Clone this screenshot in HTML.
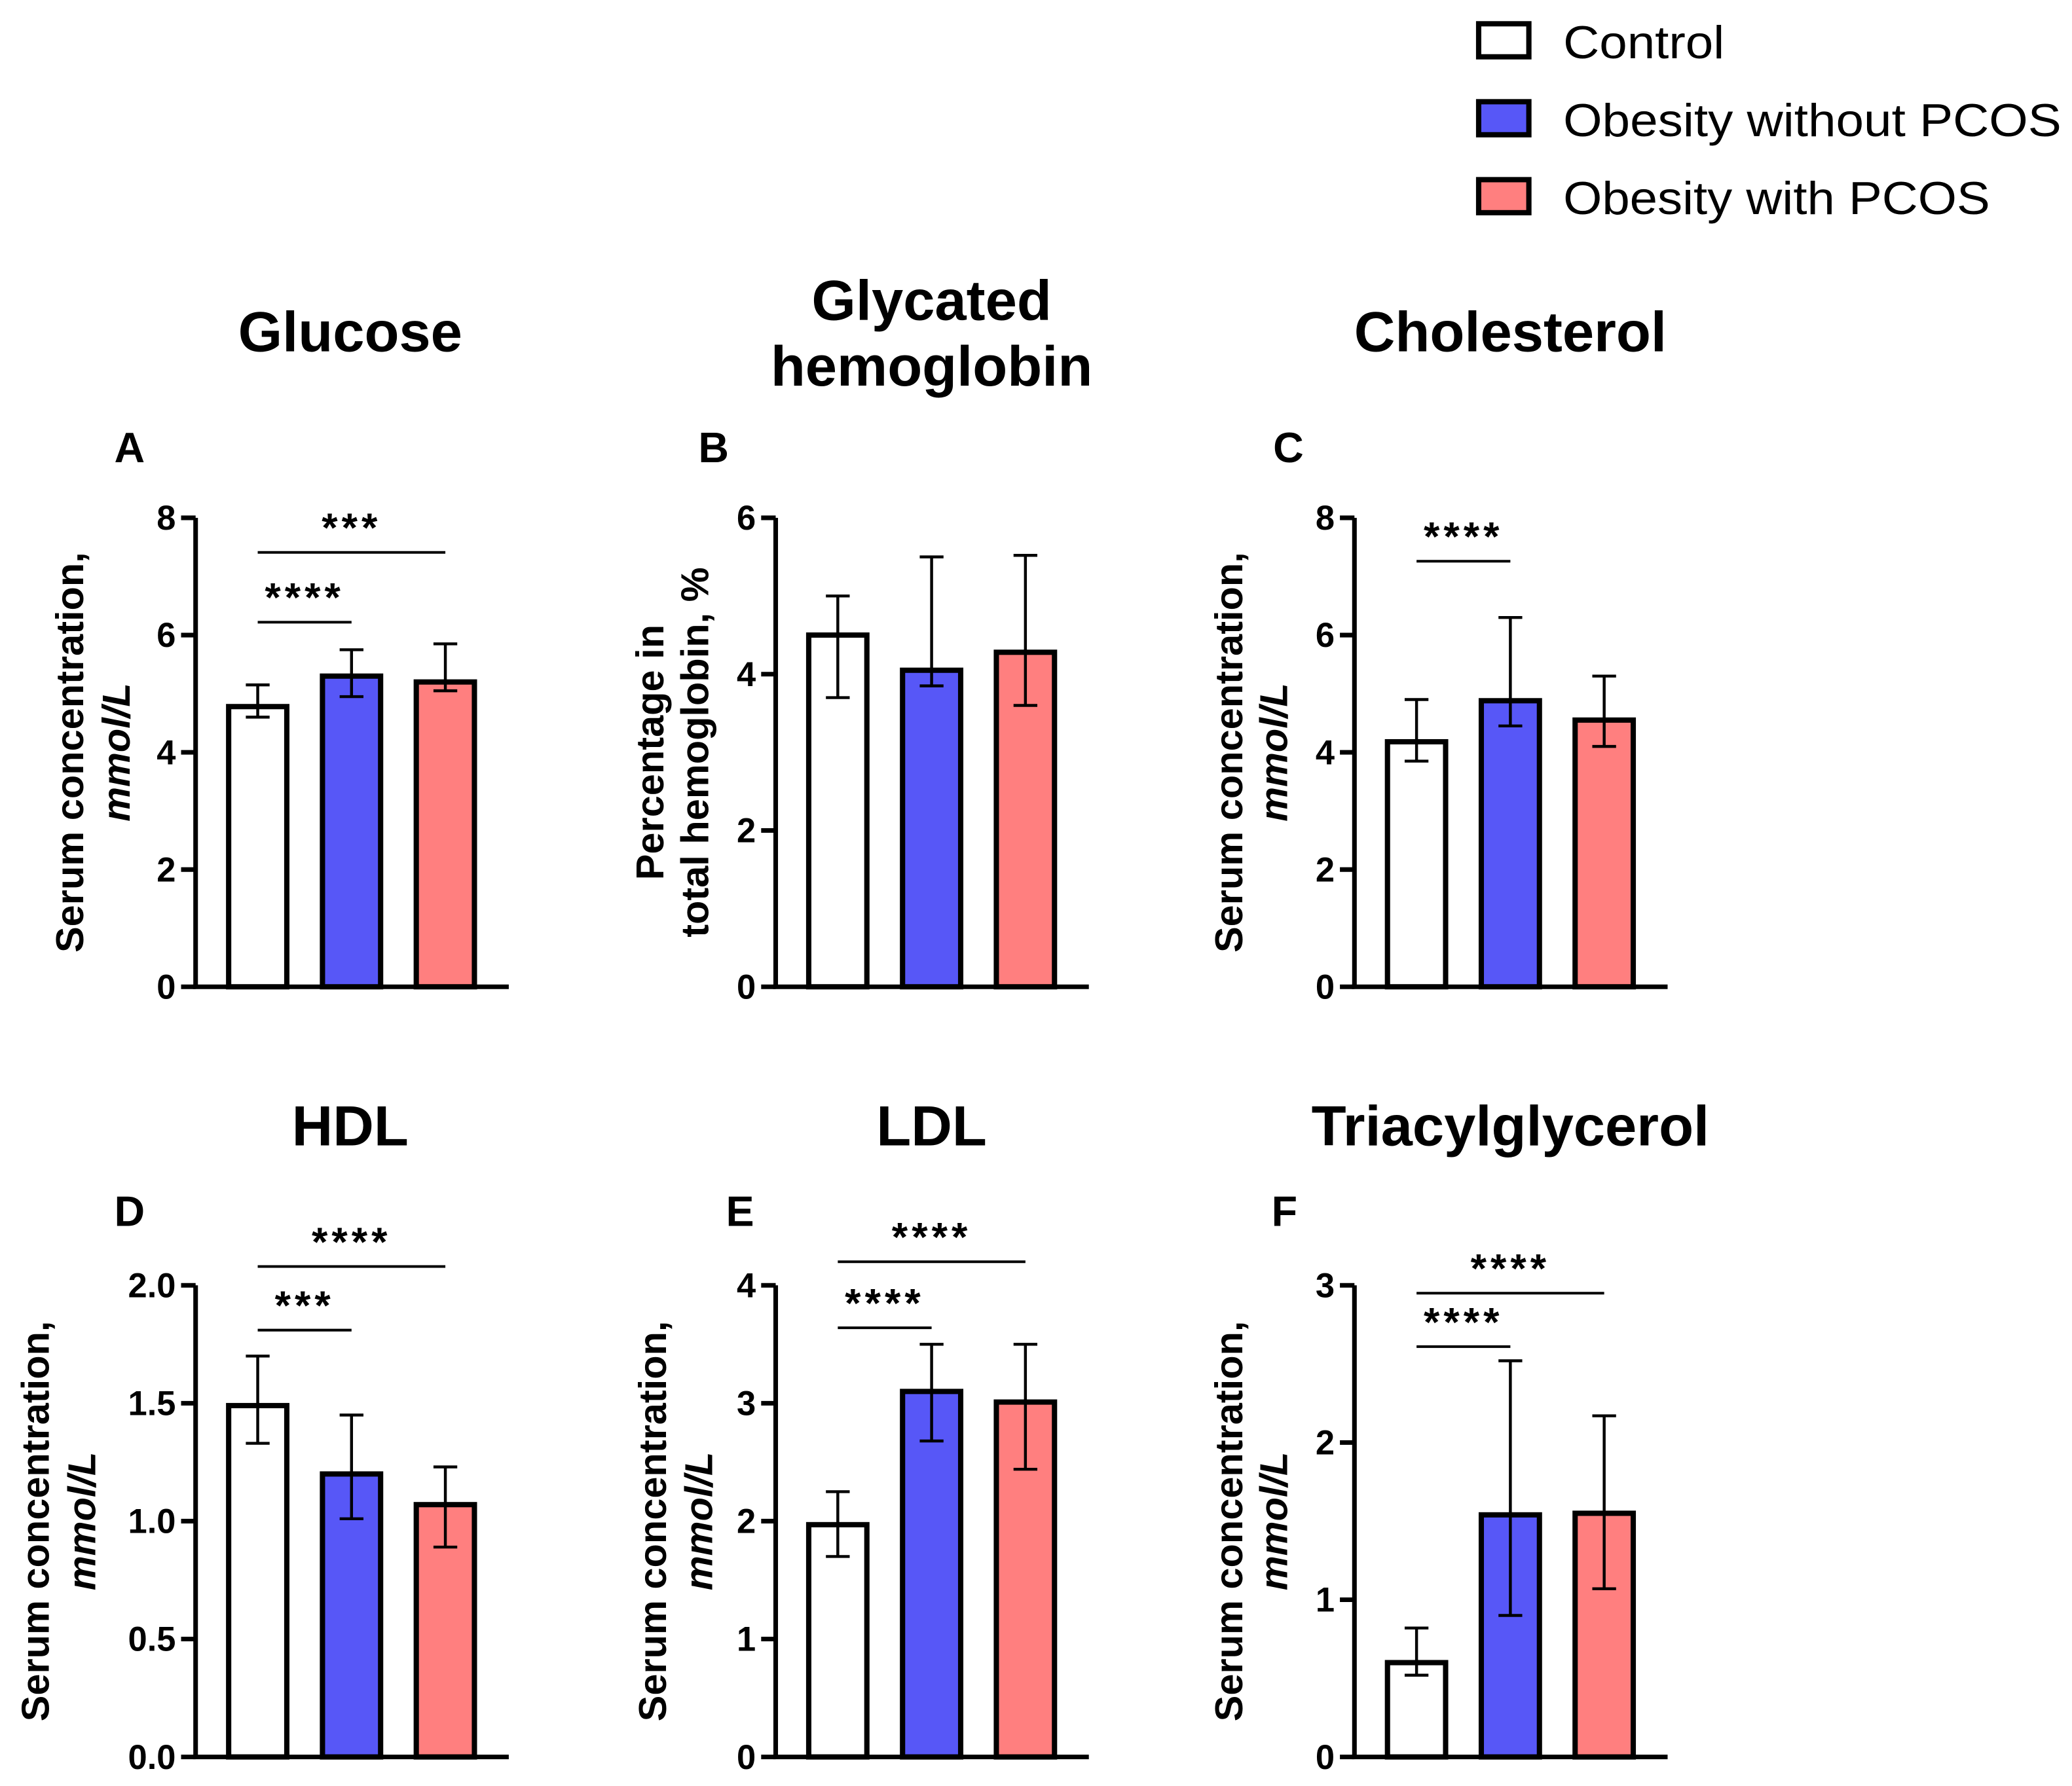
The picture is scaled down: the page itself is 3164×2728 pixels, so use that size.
<!DOCTYPE html>
<html><head><meta charset="utf-8"><style>
html,body{margin:0;padding:0;background:#fff;}
svg{display:block;}
text{font-family:"Liberation Sans",Arial,sans-serif;fill:#000;}
</style></head><body>
<svg id="chart" width="3164" height="2728" viewBox="0 0 1568 1352" xmlns="http://www.w3.org/2000/svg">
<g>
  <rect x="1119" y="18" width="38" height="25" fill="#fff" stroke="#000" stroke-width="4"/>
  <text x="1183" y="44" font-size="35" textLength="122" lengthAdjust="spacingAndGlyphs">Control</text>
  <rect x="1119" y="77" width="38" height="25" fill="#5757F7" stroke="#000" stroke-width="4"/>
  <text x="1183" y="103" font-size="35" textLength="377" lengthAdjust="spacingAndGlyphs">Obesity without PCOS</text>
  <rect x="1119" y="136" width="38" height="25" fill="#FF7F7F" stroke="#000" stroke-width="4"/>
  <text x="1183" y="162" font-size="35" textLength="323" lengthAdjust="spacingAndGlyphs">Obesity with PCOS</text>
</g>
</svg>
<script>
const groups = ["Control","Obesity without PCOS","Obesity with PCOS"];
const colors = ["#ffffff","#5757F7","#FF7F7F"];
const panelIds = ["glucose","glycated-hemoglobin","cholesterol","hdl","ldl","triacylglycerol"];
const medians = [[4.78,5.3,5.2],[4.5,4.05,4.28],[4.18,4.88,4.55],[1.49,1.2,1.07],[1.97,3.1,3.01],[0.6,1.54,1.55]];
const errLow  = [[4.6,4.95,5.05],[3.7,3.85,3.6],[3.85,4.45,4.1],[1.33,1.01,0.89],[1.7,2.68,2.44],[0.52,0.9,1.07]];
const errHigh = [[5.15,5.75,5.85],[5.0,5.5,5.52],[4.9,6.3,5.3],[1.70,1.45,1.23],[2.25,3.5,3.5],[0.82,2.52,2.17]];
const yMax = [8,6,8,2,4,3];
const yTicks = [["0","2","4","6","8"],["0","2","4","6"],["0","2","4","6","8"],["0.0","0.5","1.0","1.5","2.0"],["0","1","2","3","4"],["0","1","2","3"]];
const titles = [["Glucose"],["Glycated","hemoglobin"],["Cholesterol"],["HDL"],["LDL"],["Triacylglycerol"]];
const letters = ["A","B","C","D","E","F"];
const yLabels = [["Serum concentration,","mmol/L"],["Percentage in","total hemoglobin, %"],["Serum concentration,","mmol/L"],["Serum concentration,","mmol/L"],["Serum concentration,","mmol/L"],["Serum concentration,","mmol/L"]];
// significance: [fromGroup, toGroup, stars, valueLevel]
const sigs = [[[0,1,"****",6.22],[0,2,"***",7.41]],[],[[0,1,"****",7.26]],[[0,1,"***",1.81],[0,2,"****",2.08]],[[0,1,"****",3.64],[0,2,"****",4.2]],[[0,1,"****",2.61],[0,2,"****",2.95]]];

const layout = [
 {ax:148,top:392,bot:747,ly:338,lx:98,ty:[266],ylx:[53,88],tx:265},
 {ax:587,top:392,bot:747,ly:338,lx:540,ty:[242,292],ylx:[492,526],tx:705},
 {ax:1025,top:392,bot:747,ly:338,lx:975,ty:[266],ylx:[930,964],tx:1143},
 {ax:148,top:973,bot:1330,ly:916,lx:98,ty:[867],ylx:[27,62],tx:265},
 {ax:587,top:973,bot:1330,ly:916,lx:560,ty:[867],ylx:[494,529],tx:705},
 {ax:1025,top:973,bot:1330,ly:916,lx:972,ty:[867],ylx:[930,964],tx:1143}
];
const svg = document.getElementById('chart');
const NS = "http://www.w3.org/2000/svg";
function mk(tag, attrs, parent){const e=document.createElementNS(NS,tag);for(const k in attrs)e.setAttribute(k,attrs[k]);parent.appendChild(e);return e;}

panelIds.forEach((pid,p)=>{
  const L = layout[p];
  const g = mk('g',{},svg);
  
  
  const ys = v => L.bot - v/yMax[p]*(L.bot-L.top);
  const xs = i => L.ax + 47 + i*71;
  titles[p].forEach((t,k)=>{
    const te = mk('text',{x:L.tx,y:L.ty[k],'font-size':43,'font-weight':'bold','text-anchor':'middle'},g);
    te.textContent=t;
    
    
  });
  const le = mk('text',{x:L.lx,y:L.ly+12,'font-size':32,'font-weight':'bold','text-anchor':'middle'},g);
  le.textContent=letters[p];
  
  
  const cy=(L.top+L.bot)/2 + (p<3 ? 0 : 0);
  yLabels[p].forEach((t,k)=>{
    const te = mk('text',{x:0,y:0,'font-size':29.5,'font-weight':'bold','text-anchor':'middle',transform:`translate(${L.ylx[k]+10},${cy}) rotate(-90)`},g);
    if(k===1 && p!==1) te.setAttribute('font-style','italic');
    te.textContent=t;
    
    
  });
  groups.forEach((gr,i)=>{
    const bx = xs(i)-22, by = ys(medians[p][i]);
    const r = mk('rect',{x:bx,y:by,width:44,height:L.bot-by,fill:colors[i],stroke:'#000','stroke-width':4},g);
    
    
  });
  groups.forEach((gr,i)=>{
    const x = xs(i), y1=ys(errLow[p][i]), y2=ys(errHigh[p][i]);
    const eb = mk('path',{d:`M${x},${y1}V${y2}M${x-9},${y1}H${x+9}M${x-9},${y2}H${x+9}`,stroke:'#000','stroke-width':2.2,fill:'none'},g);
    
    
  });
  const ax = mk('path',{d:`M${L.ax},${L.top}V${L.bot}M${L.ax-2},${L.bot}H${L.ax+237}`,stroke:'#000','stroke-width':3.5,fill:'none'},g);
  
  
  const n = yTicks[p].length;
  yTicks[p].forEach((t,k)=>{
    const v = yMax[p]*k/(n-1), y=ys(v);
    const tk = mk('line',{x1:L.ax-11,x2:L.ax,y1:y,y2:y,stroke:'#000','stroke-width':3.5},g);
    
    
    const tl = mk('text',{x:L.ax-15,y:y+9,'font-size':26,'font-weight':'bold','text-anchor':'end'},g);
    tl.textContent=t;
    
    
  });
  sigs[p].forEach(s=>{
    const y = ys(s[3]);
    const sl = mk('line',{x1:xs(s[0]),x2:xs(s[1]),y1:y,y2:y,stroke:'#000','stroke-width':2},g);
    
    
    const st = mk('text',{x:(xs(s[0])+xs(s[1]))/2,y:y-8,'font-size':31,'font-weight':'bold','text-anchor':'middle','letter-spacing':3},g);
    st.textContent=s[2];
    
    
  });
});
</script>
</body></html>
